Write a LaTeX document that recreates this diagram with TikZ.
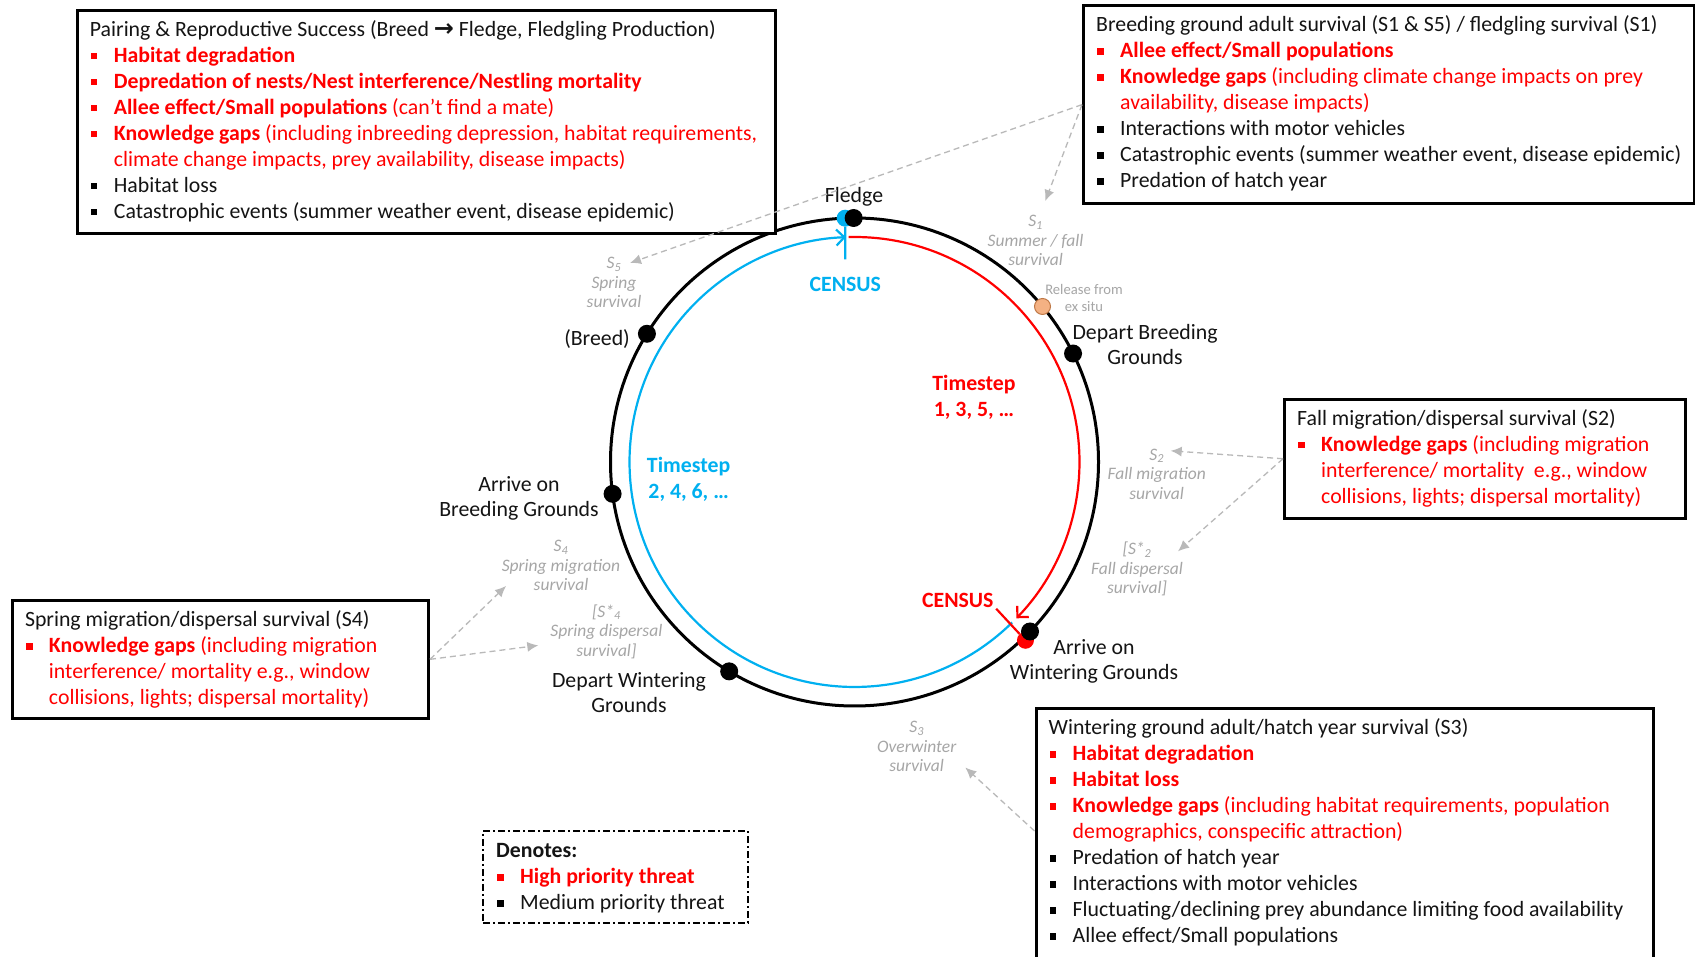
\documentclass[tikz,border=0pt]{standalone}
\usepackage{fontspec}
\setmainfont{Carlito}
\newfontfamily\symfont{DejaVu Sans}
\usetikzlibrary{arrows.meta}

\definecolor{hired}{RGB}{255,0,0}
\definecolor{cyanb}{RGB}{0,176,240}
\definecolor{lblgray}{RGB}{166,166,166}
\definecolor{arrgray}{RGB}{185,185,185}
\definecolor{orfill}{RGB}{244,177,131}
\definecolor{ordraw}{RGB}{191,120,70}
\definecolor{ink}{RGB}{20,20,20}

\newcommand{\bigfs}{\fontsize{21.8pt}{26pt}\selectfont}
\newcommand{\lblfs}{\fontsize{21.8pt}{25pt}\selectfont}
\newcommand{\smfs}{\fontsize{17.5pt}{19.5pt}\selectfont}
\newcommand{\tinyfs}{\fontsize{14.6pt}{17pt}\selectfont}

% square bullets and list lines
\newcommand{\sqbullet}[1]{\makebox[24pt][l]{\hspace{1pt}\textcolor{#1}{\rule[3pt]{6.5pt}{6.5pt}}}}
\newcommand{\hiline}[1]{\sqbullet{hired}\textcolor{hired}{#1}}
\newcommand{\mdline}[1]{\sqbullet{black}#1}
\newcommand{\contline}[1]{\hspace*{24pt}\textcolor{hired}{#1}}
\newcommand{\rarrow}{{\symfont\bfseries\fontsize{24pt}{26pt}\selectfont →}}

\begin{document}
\begin{tikzpicture}[x=1pt,y=1pt,
  framebox/.style={draw=black, fill=white, line width=3pt, inner sep=0pt, anchor=north west},
  boxtext/.style={align=left, font=\bigfs, text=ink, inner sep=0pt, anchor=north west},
  dot/.style={circle, fill=black, inner sep=0pt, minimum size=18pt},
  lbl/.style={align=center, font=\lblfs, text=ink, inner sep=0pt, yshift=-2pt},
  tstep/.style={align=center, font=\bigfs\bfseries, inner sep=0pt, yshift=-2.2pt},
  cens/.style={font=\bigfs\bfseries, inner sep=0pt, yshift=-2.2pt},
  slbl/.style={align=center, font=\smfs\itshape, text=lblgray, inner sep=0pt, yshift=-1.5pt},
  rel/.style={align=center, font=\tinyfs, text=lblgray, inner sep=0pt, yshift=-1pt},
  garrow/.style={draw=arrgray, line width=1.3pt, dash pattern=on 6pt off 4pt,
    -{Latex[length=11pt,width=10pt]}},
  ringarc/.style={line width=2.2pt, -{Straight Barb[length=8pt,width=16pt]}}
]
\useasboundingbox (0,0) rectangle (1695,956);
\fill[white] (0,0) rectangle (1695,956);

% life-cycle ring
\coordinate (c) at (854.5,494);
\draw[line width=3pt] (c) circle[radius=244];
\draw[ringarc, hired] ([shift={(91.5:225)}]c) arc[start angle=91.5, end angle=-44, radius=225];
\draw[ringarc, cyanb] ([shift={(-45.5:225)}]c) arc[start angle=-45.5, end angle=-267.8, radius=225];

% census markers
\node[circle, fill=cyanb, inner sep=0pt, minimum size=17pt] (bdot) at ([shift={(92.2:244)}]c) {};
\coordinate (bcend) at (845.3,696.6);
\draw[cyanb, line width=2.2pt] (bdot) -- (bcend);
\node[circle, fill=hired, inner sep=0pt, minimum size=17pt] (rdot) at ([shift={(-46.2:247)}]c) {};
\coordinate (rcin) at ([shift={(-46:204)}]c);
\draw[hired, line width=2.2pt] (rcin) -- (rdot);

% stage points
\node[dot] (fledge) at ([shift={(90.2:244)}]c) {};
\node[dot] (breed) at ([shift={(148.3:244)}]c) {};
\node[dot] (arrb) at ([shift={(187.5:244)}]c) {};
\node[dot] (depw) at ([shift={(239.1:244)}]c) {};
\node[dot] (arrw) at ([shift={(-44:244)}]c) {};
\node[dot] (depb) at ([shift={(26.4:244)}]c) {};
\node[circle, fill=orfill, draw=ordraw, line width=1pt, inner sep=0pt, minimum size=16pt] (release) at ([shift={(39.6:244)}]c) {};

% stage labels
\node[lbl] (lfledge) at (854,761.4) {Fledge};
\node[lbl, anchor=east] (lbreed) at (630,619) {(Breed)};
\node[lbl] (larrb) at (519,460) {Arrive on\\Breeding Grounds};
\node[lbl] (ldepw) at (629,265) {Depart Wintering\\Grounds};
\node[lbl] (larrw) at (1094,296.6) {Arrive on\\Wintering Grounds};
\node[lbl] (ldepb) at (1145,613.4) {Depart Breeding\\Grounds};
\node[rel] (lrel) at (1084,658.7) {Release from\\ex situ};
\node[tstep, text=hired] (ts1) at (974,560.4) {Timestep\\1, 3, 5, …};
\node[tstep, text=cyanb] (ts2) at (688.6,479.3) {Timestep\\2, 4, 6, …};
\node[cens, text=hired] (censR) at (957.8,358.2) {CENSUS};
\node[cens, text=cyanb] (censB) at (845.3,674) {CENSUS};

% survival rate labels
\node[slbl] (s5) at (614,675) {S\textsubscript{5}\\Spring\\survival};
\node[slbl] (s1) at (1035.6,717) {S\textsubscript{1}\\Summer / fall\\survival};
\node[slbl] (s2) at (1156.7,483.6) {S\textsubscript{2}\\Fall migration\\survival};
\node[slbl] (s2d) at (1137,388.5) {[S*\textsubscript{2}\\Fall dispersal\\survival]};
\node[slbl] (s4) at (561,392) {S\textsubscript{4}\\Spring migration\\survival};
\node[slbl] (s4d) at (606.4,326) {[S*\textsubscript{4}\\Spring dispersal\\survival]};
\node[slbl] (s3) at (916.7,211) {S\textsubscript{3}\\Overwinter\\survival};

% arrow tips next to the survival labels
\coordinate (t5) at (630,693);
\coordinate (t1) at (1045.3,755);
\coordinate (t2) at (1170.7,505.2);
\coordinate (t2d) at (1178,404.7);
\coordinate (t4) at (506,370);
\coordinate (t4d) at (538.3,310.6);
\coordinate (t3) at (965.3,188.5);

% frames
\node[framebox, minimum width=698.3, minimum height=223.8] (pairbox) at (75.7,947.4) {};
\node[framebox, minimum width=611, minimum height=197.7] (breedbox) at (1082,951.7) {};
\node[framebox, minimum width=401, minimum height=118.9] (fallbox) at (1283,558.2) {};
\node[framebox, minimum width=416.2, minimum height=117.7] (springbox) at (10.8,357) {};
\node[framebox, minimum width=617.3, minimum height=251] (winterbox) at (1034.5,249) {};
\node[framebox, line width=1.6pt, dash pattern=on 7pt off 3pt on 2pt off 3pt,
      minimum width=265, minimum height=92] (legendbox) at (482,126) {};

% dashed pointers from the threat boxes
\draw[garrow] (breedbox.west) -- (t5);
\draw[garrow] (breedbox.west) -- (t1);
\draw[garrow] (fallbox.west) -- (t2);
\draw[garrow] (fallbox.west) -- (t2d);
\draw[garrow] (springbox.east) -- (t4);
\draw[garrow] (springbox.east) -- (t4d);
\draw[garrow] ([yshift=3pt]winterbox.west) -- (t3);

% threat lists
\node[boxtext] (pairtext) at ([shift={(14,-9.2)}]pairbox.north west) {\strut Pairing \& Reproductive Success (Breed \rarrow{} Fledge, Fledgling Production)\\
\hiline{\textbf{Habitat degradation}}\\
\hiline{\textbf{Depredation of nests/Nest interference/Nestling mortality}}\\
\hiline{\textbf{Allee effect/Small populations} (can’t find a mate)}\\
\hiline{\textbf{Knowledge gaps} (including inbreeding depression, habitat requirements,}\\
\contline{climate change impacts, prey availability, disease impacts)}\\
\mdline{Habitat loss}\\
\mdline{Catastrophic events (summer weather event, disease epidemic)}};

\node[boxtext] (breedtext) at ([shift={(14,-9.2)}]breedbox.north west) {\strut Breeding ground adult survival (S1 \& S5) / fledgling survival (S1)\\
\hiline{\textbf{Allee effect/Small populations}}\\
\hiline{\textbf{Knowledge gaps} (including climate change impacts on prey}\\
\contline{availability, disease impacts)}\\
\mdline{Interactions with motor vehicles}\\
\mdline{Catastrophic events (summer weather event, disease epidemic)}\\
\mdline{Predation of hatch year}};

\node[boxtext] (falltext) at ([shift={(14,-9.2)}]fallbox.north west) {\strut Fall migration/dispersal survival (S2)\\
\hiline{\textbf{Knowledge gaps} (including migration}\\
\contline{interference/ mortality \ e.g., window}\\
\contline{collisions, lights; dispersal mortality)}};

\node[boxtext] (springtext) at ([shift={(14,-9.2)}]springbox.north west) {\strut Spring migration/dispersal survival (S4)\\
\hiline{\textbf{Knowledge gaps} (including migration}\\
\contline{interference/ mortality e.g., window}\\
\contline{collisions, lights; dispersal mortality)}};

\node[boxtext] (wintertext) at ([shift={(14,-9.2)}]winterbox.north west) {\strut Wintering ground adult/hatch year survival (S3)\\
\hiline{\textbf{Habitat degradation}}\\
\hiline{\textbf{Habitat loss}}\\
\hiline{\textbf{Knowledge gaps} (including habitat requirements, population}\\
\contline{demographics, conspecific attraction)}\\
\mdline{Predation of hatch year}\\
\mdline{Interactions with motor vehicles}\\
\mdline{Fluctuating/declining prey abundance limiting food availability}\\
\mdline{Allee effect/Small populations}};

\node[boxtext] (legendtext) at ([shift={(14,-9.2)}]legendbox.north west) {\strut\textbf{Denotes:}\\
\hiline{\textbf{High priority threat}}\\
\mdline{Medium priority threat}};
\end{tikzpicture}
\end{document}
